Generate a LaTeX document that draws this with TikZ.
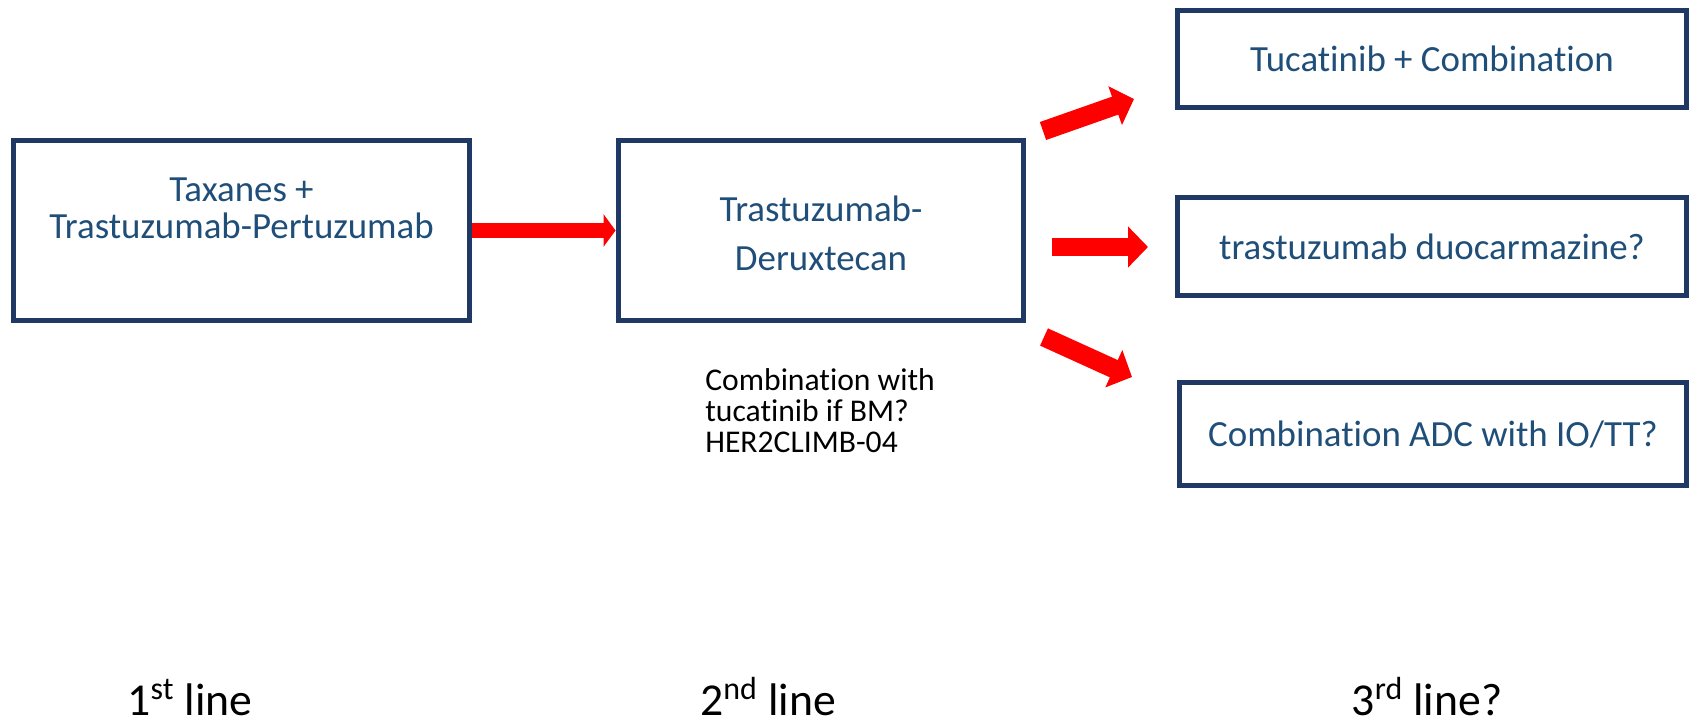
\documentclass[tikz,border=0pt]{standalone}
\usepackage{fontspec}
\setmainfont{Carlito}[RawFeature={-liga;-clig;-calt;-rlig;-dlig}]
\usetikzlibrary{arrows.meta, positioning}
\definecolor{boxline}{HTML}{1F3864}
\definecolor{boxtext}{HTML}{1F4E79}

\begin{document}
\begin{tikzpicture}[x=0.02cm, y=-0.02cm,
		linebox/.style={draw=boxline, line width=0.1cm, text=boxtext, align=center, inner sep=0pt, font=\fontsize{21}{21}\selectfont},
		fatarrow/.style={red, line width=0.38cm, -{Triangle[length=0.4cm, width=0.8cm]}},
		linelabel/.style={anchor=base, inner sep=0pt, font=\fontsize{26}{30}\selectfont}]
		\useasboundingbox (0,0) rectangle (1691,723);

		% treatment boxes
		\node[linebox, minimum width=9.14cm, minimum height=3.62cm, text height=0.34cm, text depth=0cm,
			font=\fontsize{21}{21.6}\selectfont] (tax) at (241.5,230.5) {Taxanes +\\Trastuzumab-Pertuzumab};
		\node[linebox, minimum width=8.12cm, minimum height=3.62cm, text height=1.62cm, text depth=0cm,
			font=\fontsize{21}{27.9}\selectfont] (tdx) at (821,230.5) {Trastuzumab-\\Deruxtecan};
		\node[linebox, minimum width=10.2cm, minimum height=1.96cm] (tuc) at (1432,59) {Tucatinib + Combination};
		\node[linebox, minimum width=10.2cm, minimum height=1.98cm] (duo) at (1432,246.5) {trastuzumab duocarmazine?};
		\node[linebox, minimum width=10.16cm, minimum height=2.08cm] (adc) at (1433,434) {Combination ADC with IO/TT?};

		% arrows
		\draw[red, line width=0.3cm, -{Triangle[length=0.24cm, width=0.64cm]}] (tax.east) -- (tdx.west);
		\coordinate (up0) at (1043,131);
		\coordinate (up1) at (1134,99);
		\coordinate (mid0) at (1052,247);
		\coordinate (mid1) at (1148,247);
		\coordinate (dn0) at (1044,337);
		\coordinate (dn1) at (1132,377);
		\draw[fatarrow] (up0) -- (up1);
		\draw[fatarrow] (mid0) -- (mid1);
		\draw[fatarrow] (dn0) -- (dn1);

		% note under second line
		\node[anchor=base west, align=left, inner sep=0pt, font=\fontsize{18}{17.6}\selectfont] (note) at (705,452) {Combination with\\tucatinib if BM?\\HER2CLIMB-04};

		% line labels
		\node[linelabel] (first) at (190,715) {1\textsuperscript{st} line};
		\node[linelabel] (second) at (768,715) {2\textsuperscript{nd} line};
		\node[linelabel] (third) at (1427,715) {3\textsuperscript{rd} line?};
\end{tikzpicture}
\end{document}
